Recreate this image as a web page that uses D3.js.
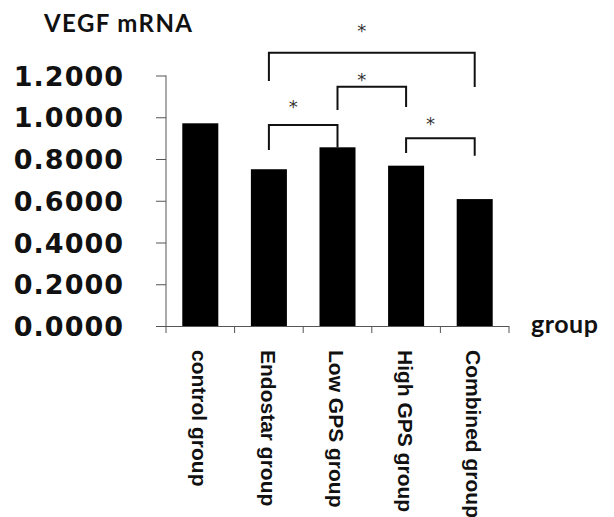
<!DOCTYPE html>
<meta charset="utf-8">
<style>

body {
  margin: 0;
  background: #fff;
}

.tick-label {
  font-family: "DejaVu Sans", Verdana, sans-serif;
  font-weight: bold;
  font-size: 27px;
  fill: #111;
}

.title, .axis-name {
  font-family: Lato, "Open Sans", sans-serif;
  font-weight: bold;
  fill: #111;
}

.group-label {
  font-family: "Liberation Sans", Arial, sans-serif;
  font-weight: bold;
  fill: #111;
}

.star {
  font-family: "DejaVu Sans", sans-serif;
  font-size: 18px;
  fill: #333;
  text-anchor: middle;
}

</style>
<svg width=614 height=517></svg>
<script src='https://cdnjs.cloudflare.com/ajax/libs/d3/7.8.5/d3.min.js'></script>
<script>

const groups = ["control group", "Endostar group", "Low GPS group", "High GPS group", "Combined group"];
const vegf = [0.971, 0.751, 0.856, 0.768, 0.608];
const yTicks = [0, 0.2, 0.4, 0.6, 0.8, 1.0, 1.2];

// significance brackets: groups compared, bar height, leg ends, star height (all in y units)
const sigFrom = [1, 2, 1, 3];
const sigTo = [4, 3, 2, 4];
const sigTop = [1.309, 1.146, 0.963, 0.899];
const sigLeftEnd = [1.174, 1.035, 0.843, 0.829];
const sigRightEnd = [1.145, 1.049, 0.855, 0.815];
const sigStar = [1.432, 1.199, 1.068, 0.987];

const axisLeft = 166;
const axisRight = 509;
const axisBottom = 326;
const axisTop = 75.5;

const svg = d3.select("svg");

const x = d3.scaleBand()
  .domain(groups)
  .range([axisLeft, axisRight])
  .paddingInner(0.475)
  .paddingOuter(0.2375);

const y = d3.scaleLinear()
  .domain([0, 1.2])
  .range([axisBottom, axisTop]);

// title
svg.append("text")
  .attr("class", "title")
  .attr("x", 44)
  .attr("y", 32)
  .attr("font-size", 24)
  .style("letter-spacing", "1.4px")
  .text("VEGF mRNA");

// bars
svg.selectAll(".bar")
  .data(groups)
  .enter().append("rect")
  .attr("class", "bar")
  .attr("x", d => x(d))
  .attr("width", x.bandwidth())
  .attr("y", (d, i) => y(vegf[i]))
  .attr("height", (d, i) => axisBottom - y(vegf[i]))
  .attr("fill", "#000");

// y axis
const yAxis = svg.append("g")
  .attr("transform", "translate(" + axisLeft + ",0)")
  .call(d3.axisLeft(y).tickValues(yTicks).tickSize(10).tickFormat(d3.format(".4f")).tickPadding(32));

yAxis.select(".domain").attr("stroke", "#555").attr("d", "M0," + axisTop + "V" + axisBottom);
yAxis.selectAll(".tick line").attr("stroke", "#555");
yAxis.selectAll(".tick text")
  .attr("class", "tick-label")
  .attr("font-family", null)
  .attr("font-size", null)
  .attr("fill", null)
  .attr("dy", "0.36em")
  .style("letter-spacing", "1px");

// x axis line and ticks at band edges
const edges = groups.map(g => x(g) - x.step() * x.paddingInner() / 2);
edges.push(axisRight);

svg.append("line")
  .attr("x1", axisLeft).attr("x2", axisRight)
  .attr("y1", axisBottom + 0.5).attr("y2", axisBottom + 0.5)
  .attr("stroke", "#555");

svg.selectAll(".xtick")
  .data(edges)
  .enter().append("line")
  .attr("class", "xtick")
  .attr("x1", d => d).attr("x2", d => d)
  .attr("y1", axisBottom).attr("y2", axisBottom + 7)
  .attr("stroke", "#555");

// category labels, rotated
svg.selectAll(".group-label")
  .data(groups)
  .enter().append("text")
  .attr("class", "group-label")
  .attr("font-size", 21)
  .attr("transform", d => "translate(" + (x(d) + x.bandwidth() / 2 - 1) + ",350) rotate(90)")
  .attr("dy", "0.35em")
  .text(d => d);

svg.append("text")
  .attr("class", "axis-name")
  .attr("x", 531)
  .attr("y", 333)
  .attr("font-size", 25)
  .style("letter-spacing", "0.5px")
  .text("group");

// significance brackets
const cx = i => x(groups[i]) + x.bandwidth() / 2;

svg.selectAll(".bracket")
  .data(sigFrom)
  .enter().append("path")
  .attr("class", "bracket")
  .attr("fill", "none")
  .attr("stroke", "#111")
  .attr("stroke-width", 2)
  .attr("d", (d, i) => "M" + cx(sigFrom[i]) + "," + y(sigLeftEnd[i]) +
    "V" + y(sigTop[i]) + "H" + cx(sigTo[i]) + "V" + y(sigRightEnd[i]));

svg.selectAll(".star")
  .data(sigFrom)
  .enter().append("text")
  .attr("class", "star")
  .attr("x", (d, i) => (cx(sigFrom[i]) + cx(sigTo[i])) / 2 - 10)
  .attr("y", (d, i) => y(sigStar[i]) + 10)
  .text("*");

</script>
